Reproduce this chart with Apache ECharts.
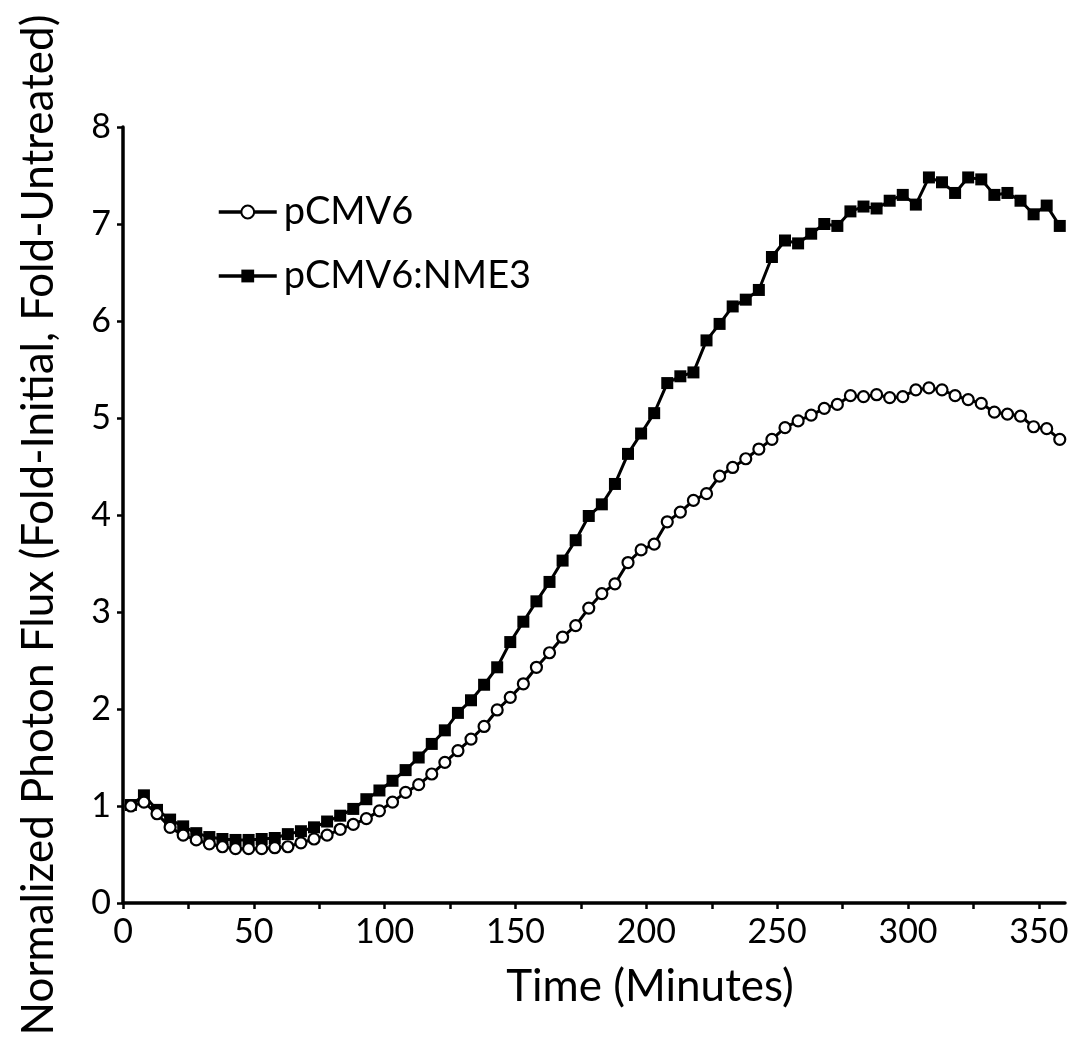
<!DOCTYPE html>
<html>
<head>
<meta charset="utf-8">
<script src="https://cdn.jsdelivr.net/npm/echarts@6/dist/echarts.min.js"></script>
<style>html,body{margin:0;padding:0;background:#fff;}#c{width:1077px;height:1040px;}</style>
</head>
<body>
<div id="c"></div>
<script>
const times = [3,8,13,18,23,28,33,38,43,48,53,58,63,68,73,78,83,88,93,98,103,108,113,118,123,128,133,138,143,148,153,158,163,168,173,178,183,188,193,198,203,208,213,218,223,228,233,238,243,248,253,258,263,268,273,278,283,288,293,298,303,308,313,318,323,328,333,338,343,348,353,358];
const pCMV6 = [1.00,1.04,0.92,0.78,0.70,0.65,0.61,0.58,0.56,0.56,0.56,0.57,0.58,0.62,0.66,0.70,0.76,0.81,0.87,0.95,1.04,1.14,1.22,1.33,1.45,1.57,1.69,1.82,1.99,2.12,2.26,2.43,2.58,2.74,2.86,3.04,3.19,3.29,3.51,3.64,3.70,3.93,4.03,4.15,4.22,4.40,4.49,4.58,4.68,4.78,4.90,4.97,5.03,5.10,5.14,5.23,5.22,5.24,5.21,5.22,5.29,5.31,5.29,5.23,5.19,5.15,5.06,5.04,5.02,4.91,4.89,4.78];
const pCMV6_NME3 = [1.01,1.11,0.96,0.86,0.79,0.72,0.68,0.66,0.65,0.65,0.66,0.67,0.71,0.74,0.78,0.84,0.90,0.97,1.07,1.16,1.26,1.37,1.50,1.64,1.78,1.96,2.09,2.25,2.43,2.69,2.90,3.11,3.31,3.53,3.74,3.99,4.11,4.32,4.63,4.84,5.05,5.36,5.43,5.47,5.80,5.97,6.15,6.22,6.32,6.66,6.83,6.80,6.90,7.00,6.98,7.13,7.18,7.16,7.24,7.30,7.20,7.48,7.43,7.32,7.48,7.46,7.30,7.32,7.24,7.10,7.19,6.98];
const xTicks = [0,25,50,75,100,125,150,175,200,225,250,275,300,325,350];
const xLabels = [0,50,100,150,200,250,300,350];
const seriesNames = ['pCMV6','pCMV6:NME3'];

const FONT = 'Lato';
const pair = (ys) => times.map((t, i) => [t, ys[i]]);

const chart = echarts.init(document.getElementById('c'), null, {renderer: 'canvas'});
chart.setOption({
  animation: false,
  backgroundColor: '#fff',
  grid: {left: 123, right: 12, top: 127, bottom: 137, containLabel: false},
  legend: {
    data: seriesNames,
    orient: 'vertical',
    left: 212, top: 188,
    itemWidth: 58, itemHeight: 16, itemGap: 26,
    lineStyle: {width: 3.5},
    textStyle: {fontFamily: FONT, fontSize: 38, color: '#000', padding: [0,0,0,2]},
    inactiveColor: '#000'
  },
  xAxis: {
    type: 'value', min: 0, max: 360,
    name: 'Time (Minutes)', nameLocation: 'middle', nameGap: 62,
    nameTextStyle: {fontFamily: FONT, fontSize: 44, color: '#000', padding: [0,0,0,112]},
    axisLine: {show: true, onZero: false, lineStyle: {color: '#000', width: 3.5}},
    axisTick: {show: true, inside: false, length: 6, lineStyle: {color: '#000', width: 2.5}, customValues: xTicks},
    axisLabel: {fontFamily: FONT, fontSize: 34, color: '#000', margin: 12, customValues: xLabels},
    splitLine: {show: false}
  },
  yAxis: {
    type: 'value', min: 0, max: 8, interval: 1,
    name: 'Normalized Photon Flux (Fold-Initial, Fold-Untreated)', nameLocation: 'middle', nameGap: 62, nameRotate: 90,
    nameTextStyle: {fontFamily: FONT, fontSize: 44, color: '#000', padding: [0,20,0,0]},
    axisLine: {show: true, onZero: false, lineStyle: {color: '#000', width: 3.5}},
    axisTick: {show: true, inside: false, length: 6, lineStyle: {color: '#000', width: 2.5}},
    axisLabel: {fontFamily: FONT, fontSize: 34, color: '#000', margin: 12},
    splitLine: {show: false}
  },
  series: [
    {
      name: seriesNames[1], type: 'line', data: pair(pCMV6_NME3),
      symbol: 'rect', symbolSize: 12, z: 2,
      lineStyle: {color: '#000', width: 3},
      itemStyle: {color: '#000', borderColor: '#000', borderWidth: 0}
    },
    {
      name: seriesNames[0], type: 'line', data: pair(pCMV6),
      symbol: 'circle', symbolSize: 11, z: 3,
      lineStyle: {color: '#000', width: 3},
      itemStyle: {color: '#fff', borderColor: '#000', borderWidth: 2.2}
    }
  ]
});
</script>
</body>
</html>
